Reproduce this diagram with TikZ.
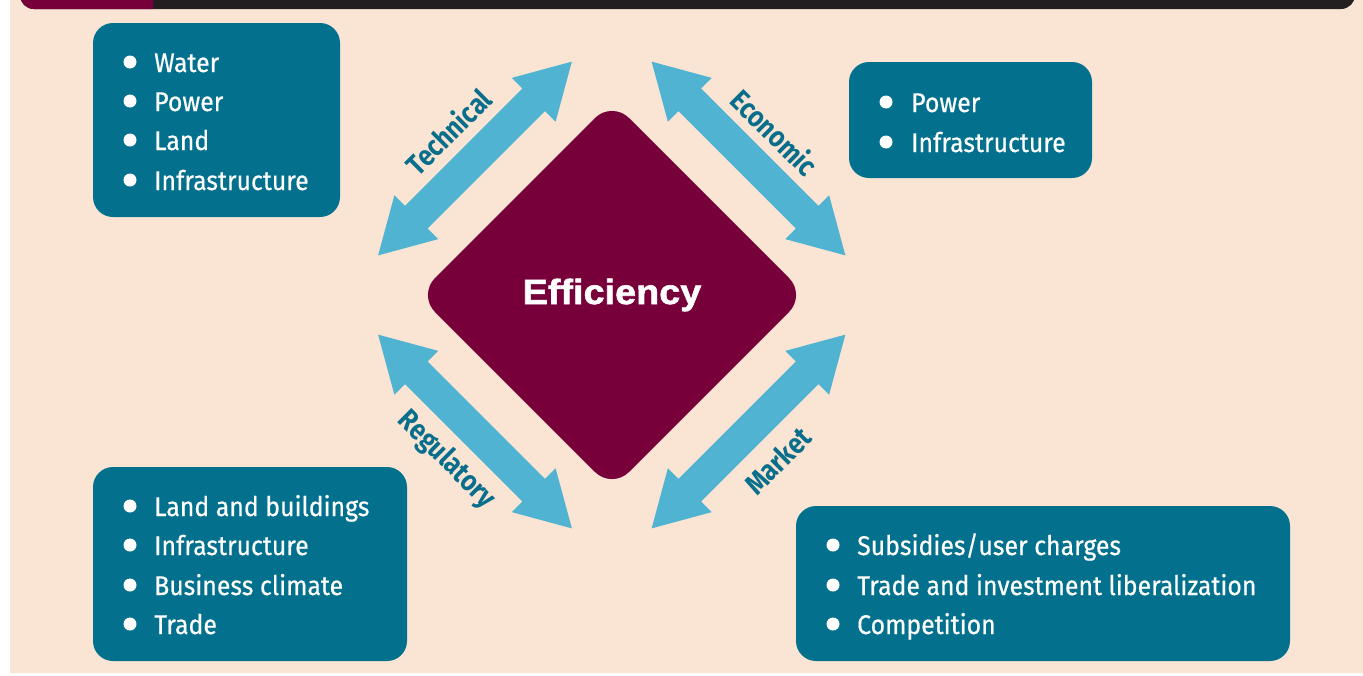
\documentclass[tikz,border=0pt]{standalone}
\usepackage{fontspec}
\setmainfont{Fira Sans}
\newfontfamily\itemfont{Fira Sans}[FakeStretch=0.92, FakeBold=0.5]
\newfontfamily\labfont{Fira Sans}[FakeStretch=0.86]
\newfontfamily\efffont{Liberation Sans}[FakeStretch=1.08, FakeBold=1.6]
\definecolor{peach}{HTML}{FAE5D4}
\definecolor{teal1}{HTML}{03718E}
\definecolor{arrowblue}{HTML}{4FB3D1}
\definecolor{maroon1}{HTML}{78003A}
\definecolor{labteal}{HTML}{086E8B}
\definecolor{barblack}{HTML}{231F20}
\begin{document}
\begin{tikzpicture}[x=1pt,y=-1pt,
  box/.style={fill=teal1, rounded corners=20pt},
  bul/.style={circle, fill=white, inner sep=0pt, minimum size=13pt},
  itm/.style={anchor=base west, text=white, inner sep=0pt, font=\itemfont\fontsize{27}{30}\selectfont},
  arr/.style={fill=arrowblue},
  lab/.style={text=labteal, inner sep=0pt, font=\labfont\bfseries\fontsize{29}{32}\selectfont}]
\useasboundingbox (0,0) rectangle (1363,675);
% background and top bar
\begin{scope}
  \clip (0,0) rectangle (1363,675);
  \fill[peach] (10,0) rectangle (1363,673);
  \fill[barblack, rounded corners=14pt] (20,-40) rectangle (1355,9);
  \begin{scope}
    \clip (0,-50) rectangle (153,20);
    \fill[maroon1, rounded corners=14pt] (20,-40) rectangle (1355,9);
  \end{scope}
\end{scope}
% diamond
\fill[maroon1, rounded corners=24pt] (612,101) -- (806,295) -- (612,489) -- (418,295) -- cycle;
\node[text=white, font=\efffont\bfseries\fontsize{35}{40}\selectfont, inner sep=0pt] (eff) at (612,295) {Efficiency};
% arrows
\foreach \cx/\cy/\ang in {475/158.5/45, 748.5/158.5/-45, 475/431.5/-45, 748.5/431.5/45}{
  \fill[arr, shift={(\cx,\cy)}, rotate=\ang]
    (-137,0) -- (-83,31) -- (-83,16) -- (83,16) -- (83,31) -- (137,0)
    -- (83,-31) -- (83,-16) -- (-83,-16) -- (-83,-31) -- cycle;
}
\coordinate (ta) at (378,255); \coordinate (tb) at (572,62);
\coordinate (ea) at (652,62);  \coordinate (eb) at (845,255);
\coordinate (ra) at (378,335); \coordinate (rb) at (572,528);
\coordinate (ma) at (652,528); \coordinate (mb) at (845,335);
\path (ta) -- (tb) node[lab, midway, sloped, above=26pt] (lt) {Technical};
\path (ea) -- (eb) node[lab, midway, sloped, above=25pt] (le) {Economic};
\path (ra) -- (rb) node[lab, midway, sloped, below=26pt] (lr) {Regulatory};
\path (ma) -- (mb) node[lab, midway, sloped, below=30pt] (lm) {Market};
% boxes
\fill[box] (93,23) rectangle (340,217);
\fill[box] (849,62) rectangle (1092,178);
\fill[box] (93,467) rectangle (407,661);
\fill[box] (796,506) rectangle (1290,661);
% items
\foreach \y/\t [count=\i] in {62/Water, 101/Power, 140/Land, 180/Infrastructure}{
  \node[bul] (tlb\i) at (130,\y) {};
  \node[itm] (tlt\i) at (154,\y+10) {\t};
}
\foreach \y/\t [count=\i] in {102/Power, 142/Infrastructure}{
  \node[bul] (trb\i) at (886,\y) {};
  \node[itm] (trt\i) at (911,\y+10) {\t};
}
\foreach \y/\t [count=\i] in {506/Land and buildings, 545/Infrastructure, 585/Business climate, 624/Trade}{
  \node[bul] (blb\i) at (130,\y) {};
  \node[itm] (blt\i) at (154,\y+10) {\t};
}
\foreach \y/\t [count=\i] in {545/Subsidies\slash user charges, 585/Trade and investment liberalization, 624/Competition}{
  \node[bul] (brb\i) at (833,\y) {};
  \node[itm] (brt\i) at (857,\y+10) {\t};
}
\end{tikzpicture}
\end{document}
